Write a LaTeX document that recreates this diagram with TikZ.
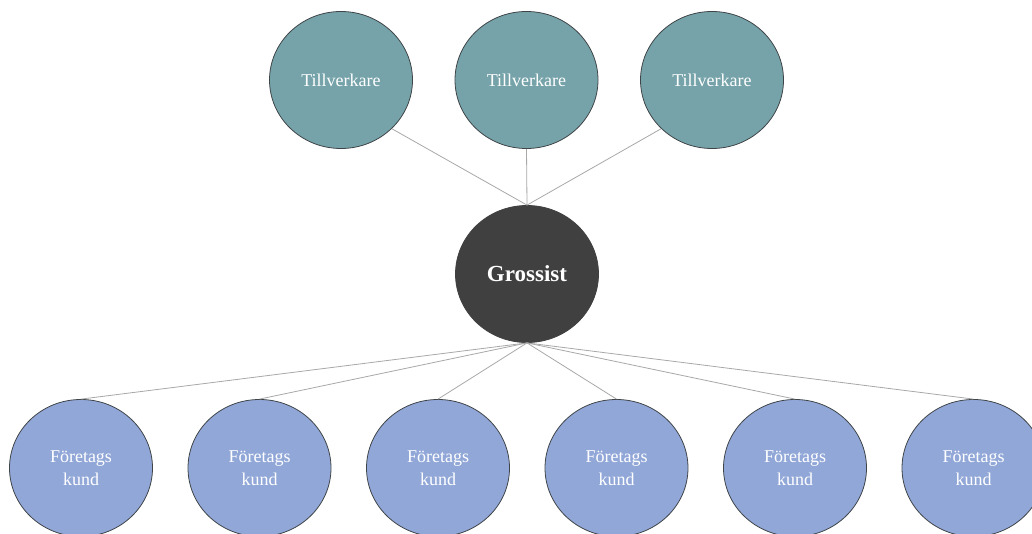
\documentclass[tikz,border=0pt]{standalone}
\usepackage{fontspec}
\setmainfont{Liberation Serif}
\usetikzlibrary{shapes.geometric}
\definecolor{tealc}{HTML}{75A3A9}
\definecolor{darkc}{HTML}{404040}
\definecolor{bluec}{HTML}{91A7D8}
\definecolor{bordc}{HTML}{3F4448}
\definecolor{linec}{HTML}{A8A8A8}
\tikzset{
  circ/.style={ellipse, minimum width=143pt, minimum height=137pt, inner sep=0pt, draw=bordc, line width=0.8pt, text=white, align=center, font=\fontsize{18}{23}\selectfont},
  maker/.style={circ, fill=tealc},
  hub/.style={circ, fill=darkc, draw=darkc, font=\fontsize{23}{27}\selectfont\bfseries},
  client/.style={circ, fill=bluec},
  conn/.style={draw=linec, line width=0.8pt}
}
\begin{document}
\begin{tikzpicture}[x=1pt,y=-1pt]
\useasboundingbox (0,0) rectangle (1032,534);
\node[maker] (t1) at (341,80) {Tillverkare};
\node[maker] (t2) at (526.5,80) {Tillverkare};
\node[maker] (t3) at (712,80) {Tillverkare};
\node[hub] (g) at (527,274) {Grossist};
\foreach \i/\x in {1/81,2/259.5,3/438,4/616.5,5/795,6/973.5}{
  \node[client] (k\i) at (\x,468) {Företags\\kund};
}
\draw[conn] (g.north) -- (t1.south east);
\draw[conn] (g.north) -- (t2.south);
\draw[conn] (g.north) -- (t3.south west);
\foreach \i in {1,...,6}{
  \draw[conn] (g.south) -- (k\i.north);
}
\end{tikzpicture}
\end{document}
